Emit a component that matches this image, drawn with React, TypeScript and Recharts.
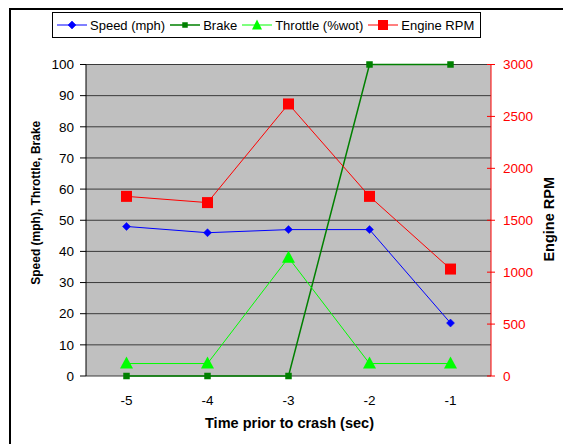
import React from 'react';
import { ComposedChart, Line, XAxis, YAxis, CartesianGrid, Legend } from 'recharts';

const times = [-5, -4, -3, -2, -1];
const speed = [48, 46, 47, 47, 17];
const brake = [0, 0, 0, 100, 100];
const throttle = [4, 4, 38, 4, 4];
const rpm = [1730, 1670, 2620, 1730, 1030];

const leftTicks = [0, 10, 20, 30, 40, 50, 60, 70, 80, 90, 100];
const rightTicks = [0, 500, 1000, 1500, 2000, 2500, 3000];
const boundaryTicks = [-5.5, -4.5, -3.5, -2.5, -1.5, -0.5];

const xTitle = 'Time prior to crash (sec)';
const leftTitle = 'Speed (mph), Throttle, Brake';
const rightTitle = 'Engine RPM';

const data = times.map((t, i) => ({
  t,
  speed: speed[i],
  brake: brake[i],
  throttle: throttle[i],
  rpm: rpm[i],
}));

const FONT = '"Liberation Sans", Arial, sans-serif';
const BLUE = '#0000ff';
const DKGREEN = '#008000';
const LIME = '#00ff00';
const RED = '#ff0000';

const Diamond = ({ cx, cy, color }: any) => (
  <path d={`M${cx},${cy - 4} L${cx + 4},${cy} L${cx},${cy + 4} L${cx - 4},${cy} Z`} fill={color} stroke={color} strokeWidth={0.5} />
);
const Square = ({ cx, cy, color, s }: any) => (
  <rect x={cx - s / 2} y={cy - s / 2} width={s} height={s} fill={color} />
);
const Triangle = ({ cx, cy, color }: any) => (
  <path d={`M${cx},${cy - 7} L${cx + 6.5},${cy + 5} L${cx - 6.5},${cy + 5} Z`} fill={color} />
);

const dotSpeed = (p: any) => <Diamond key={`s${p.index}`} cx={p.cx} cy={p.cy} color={BLUE} />;
const dotBrake = (p: any) => <Square key={`b${p.index}`} cx={p.cx} cy={p.cy} color={DKGREEN} s={6.5} />;
const dotThrottle = (p: any) => <Triangle key={`t${p.index}`} cx={p.cx} cy={p.cy} color={LIME} />;
const dotRpm = (p: any) => <Square key={`r${p.index}`} cx={p.cx} cy={p.cy} color={RED} s={11} />;

const legendItems = [
  { name: 'Speed (mph)', color: BLUE, kind: 'diamond', w: 1 },
  { name: 'Brake', color: DKGREEN, kind: 'small', w: 1.5 },
  { name: 'Throttle (%wot)', color: LIME, kind: 'tri', w: 1 },
  { name: 'Engine RPM', color: RED, kind: 'big', w: 1 },
];

const LegendBox = () => (
  <div
    style={{
      width: 429,
      height: 26,
      boxSizing: 'border-box',
      border: '1px solid #000',
      background: '#fff',
      display: 'flex',
      alignItems: 'center',
      paddingLeft: 4,
      fontFamily: FONT,
      fontSize: 13,
      color: '#000',
      whiteSpace: 'nowrap',
    }}
  >
    {legendItems.map((it) => (
      <div key={it.name} style={{ display: 'flex', alignItems: 'center', marginRight: 5 }}>
        <svg width={30} height={14} style={{ display: 'block' }}>
          <line x1={0} y1={7} x2={30} y2={7} stroke={it.color} strokeWidth={it.w} />
          {it.kind === 'diamond' && <Diamond cx={15} cy={7} color={it.color} />}
          {it.kind === 'small' && <Square cx={15} cy={7} color={it.color} s={5.5} />}
          {it.kind === 'tri' && (
            <path d="M15,1.5 L20,11.5 L10,11.5 Z" fill={it.color} />
          )}
          {it.kind === 'big' && <Square cx={15} cy={7} color={it.color} s={10} />}
        </svg>
        <span style={{ marginLeft: 3 }}>{it.name}</span>
      </div>
    ))}
  </div>
);

const RightTick = (props: any) => {
  const { x, y, payload } = props;
  return (
    <g>
      <line x1={x - 16} x2={x - 12} y1={y} y2={y} stroke={RED} />
      <text x={x} y={y} dy="0.355em" fill={RED} fontSize={13.5} textAnchor="start" fontFamily={FONT}>
        {payload.value}
      </text>
    </g>
  );
};

const EmptyTick = () => <g />;

export default function App() {
  return (
    <div style={{ position: 'relative', width: 563, height: 436, overflow: 'hidden', fontFamily: FONT, background: '#fff' }}>
      <div
        style={{
          position: 'absolute',
          left: 1,
          top: 0,
          width: 700,
          height: 700,
          borderLeft: '2px solid #000',
          borderTop: '2px solid #000',
        }}
      />
      <div style={{ position: 'absolute', left: 0, top: 0 }}>
        <ComposedChart width={563} height={436} data={data} margin={{ top: 56.5, right: 0, bottom: 0, left: 0 }}>
          <CartesianGrid yAxisId="left" vertical={false} fill="#c0c0c0" stroke="#3a3a3a" fillOpacity={1} />
          <XAxis
            xAxisId={0}
            type="number"
            dataKey="t"
            domain={[-5.5, -0.5]}
            ticks={boundaryTicks}
            interval={0}
            tick={EmptyTick}
            tickSize={5}
            tickLine={{ stroke: '#000' }}
            axisLine={{ stroke: '#000' }}
            height={0}
          />
          <XAxis
            xAxisId="lbl"
            type="number"
            dataKey="t"
            domain={[-5.5, -0.5]}
            ticks={times}
            interval={0}
            tickLine={false}
            axisLine={false}
            tickSize={0}
            tickMargin={19}
            tick={{ fill: '#000', fontSize: 13.5, fontFamily: FONT }}
            height={68}
            label={{
              content: (p: any) => {
                const vb = p.viewBox;
                return (
                  <text
                    x={vb.x + vb.width / 2 + 1}
                    y={vb.y + 47}
                    textAnchor="middle"
                    dominantBaseline="central"
                    fontWeight="bold"
                    fontSize={14.5}
                    fontFamily={FONT}
                    fill="#000"
                  >
                    {xTitle}
                  </text>
                );
              },
            }}
          />
          <YAxis
            yAxisId="left"
            orientation="left"
            width={78}
            domain={[0, 100]}
            ticks={leftTicks}
            interval={0}
            tickSize={6}
            tickMargin={6}
            stroke="#000"
            tick={{ fill: '#000', fontSize: 13.5, fontFamily: FONT }}
            label={{
              content: (p: any) => {
                const vb = p.viewBox;
                const cx = vb.x + 28;
                const cy = vb.y + vb.height / 2 - 17.5;
                return (
                  <text
                    x={cx}
                    y={cy}
                    transform={`rotate(-90, ${cx}, ${cy})`}
                    textAnchor="middle"
                    dominantBaseline="central"
                    fontWeight="bold"
                    fontSize={12}
                    fontFamily={FONT}
                    fill="#000"
                  >
                    {leftTitle}
                  </text>
                );
              },
            }}
          />
          <YAxis
            yAxisId="right"
            orientation="right"
            width={80}
            domain={[0, 3000]}
            ticks={rightTicks}
            interval={0}
            tickSize={4}
            tickMargin={8}
            stroke={RED}
            tick={RightTick}
            label={{
              content: (p: any) => {
                const vb = p.viewBox;
                const cx = vb.x + 57.5;
                const cy = vb.y + vb.height / 2 - 1;
                return (
                  <text
                    x={cx}
                    y={cy}
                    transform={`rotate(-90, ${cx}, ${cy})`}
                    textAnchor="middle"
                    dominantBaseline="central"
                    fontWeight="bold"
                    fontSize={14.5}
                    fontFamily={FONT}
                    fill="#000"
                  >
                    {rightTitle}
                  </text>
                );
              },
            }}
          />
          <Legend
            layout="horizontal"
            verticalAlign="middle"
            align="center"
            content={LegendBox}
            wrapperStyle={{ top: 4, left: 44, width: 429, height: 26 }}
          />
          <Line yAxisId="left" type="linear" dataKey="speed" stroke={BLUE} strokeWidth={1} dot={dotSpeed} activeDot={false} isAnimationActive={false} />
          <Line yAxisId="left" type="linear" dataKey="brake" stroke={DKGREEN} strokeWidth={1.5} dot={dotBrake} activeDot={false} isAnimationActive={false} />
          <Line yAxisId="left" type="linear" dataKey="throttle" stroke={LIME} strokeWidth={1} dot={dotThrottle} activeDot={false} isAnimationActive={false} />
          <Line yAxisId="right" type="linear" dataKey="rpm" stroke={RED} strokeWidth={1} dot={dotRpm} activeDot={false} isAnimationActive={false} />
        </ComposedChart>
      </div>
    </div>
  );
}
